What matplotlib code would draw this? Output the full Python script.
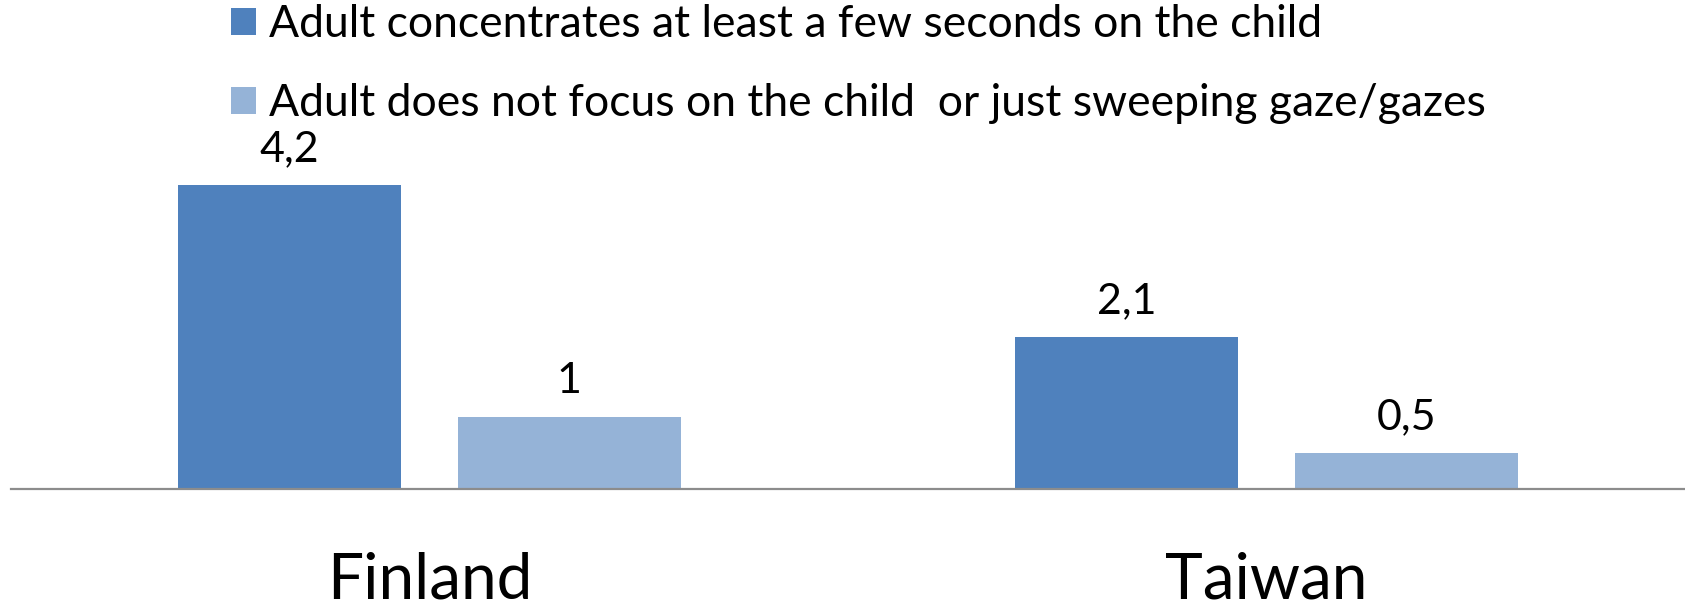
import numpy as np
import matplotlib.pyplot as plt
from matplotlib.patches import Patch

plt.rcParams['font.family'] = ['Lato', 'DejaVu Sans']

categories = ["Finland", "Taiwan"]
series_names = [
    "Adult concentrates at least a few seconds on the child",
    "Adult does not focus on the child  or just sweeping gaze/gazes",
]
focused = [4.2, 2.1]
not_focused = [1, 0.5]
value_labels = [["4,2", "2,1"], ["1", "0,5"]]
colors = ["#4F81BD", "#95B3D7"]

fig = plt.figure(figsize=(16.85, 6.13), dpi=100)
ax = fig.add_axes([11 / 1685, 1 - 489 / 613, 1 - 11 / 1685, 362 / 613])

x = np.arange(len(categories))
w = 0.266
off = 0.167
for k, (vals, col) in enumerate(zip([focused, not_focused], colors)):
    pos = x + (off if k else -off)
    ax.bar(pos, vals, width=w, color=col, zorder=2)
    for p, v, lab in zip(pos, vals, value_labels[k]):
        ax.annotate(lab, (p, v), xytext=(0, 17), textcoords="offset points",
                    ha="center", va="baseline", fontsize=31, color="black")

ax.set_xlim(-0.5, 1.5)
ax.set_ylim(0, 5)
for s in ["top", "right", "left"]:
    ax.spines[s].set_visible(False)
ax.spines["bottom"].set_color("#8C8C8C")
ax.spines["bottom"].set_linewidth(1.6)
ax.set_yticks([])
ax.set_xticks(x)
ax.set_xticklabels(categories, fontsize=46)
ax.tick_params(axis="x", length=0, pad=45)

handles = [Patch(facecolor=c, edgecolor="none") for c in colors]
fig.legend(handles, series_names, loc="upper left", bbox_to_anchor=(231 / 1685, 1 - 4 / 613),
           frameon=False, fontsize=32, handlelength=0.56, handleheight=0.56,
           handletextpad=0.3, labelspacing=0.85, borderpad=0.0, borderaxespad=0.0)

fig.savefig("out.png", dpi=100)
